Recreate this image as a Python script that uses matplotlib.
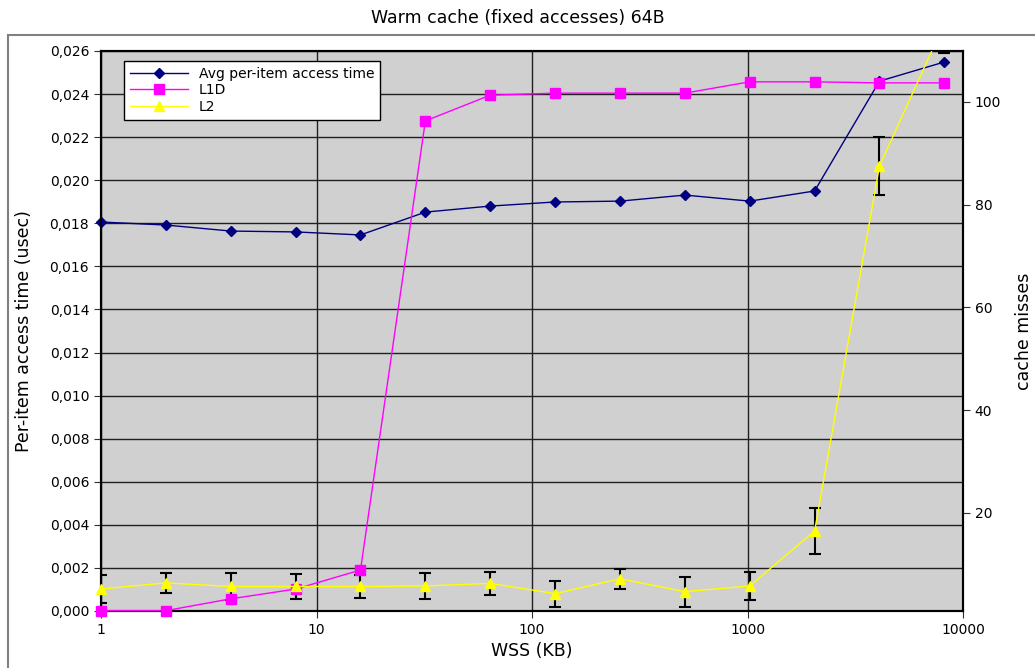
import numpy as np
import matplotlib
matplotlib.use('Agg')
import matplotlib.pyplot as plt
from matplotlib.ticker import FuncFormatter, FixedLocator, NullLocator
from matplotlib.patches import Rectangle

# working set sizes (KB)
wss = [1, 2, 4, 8, 16, 32, 64, 128, 256, 512, 1024, 2048, 4096, 8192]

# average per-item access time (usec), left axis
avg_time = [0.01806, 0.01792, 0.01764, 0.01760, 0.01746, 0.01852, 0.01880,
            0.01899, 0.01903, 0.01931, 0.01903, 0.01950, 0.02460, 0.02549]

# cache misses, right axis
l1d = [1.0, 1.0, 3.3, 5.2, 8.9, 96.3, 101.3, 101.7, 101.7, 101.7,
       103.9, 103.9, 103.7, 103.7]
l2 = [5.2, 6.4, 5.7, 5.7, 5.7, 5.8, 6.3, 4.3, 7.2, 4.7, 5.8, 16.5, 87.5, 115.3]
l2_err = [2.8, 1.9, 2.6, 2.4, 2.2, 2.5, 2.3, 2.5, 1.9, 2.9, 2.8, 4.4, 5.6, 5.8]

fig = plt.figure(figsize=(10.35, 6.68), dpi=100)
ax = fig.add_axes([101 / 1035, 1 - 611 / 668, 862 / 1035, 560 / 668])
ax2 = ax.twinx()

# outer frame of the chart
fig.patches.append(Rectangle((8 / 1035, -0.05), 1.0, 1 - 35 / 668 + 0.05,
                             transform=fig.transFigure, fill=False,
                             edgecolor='#808080', linewidth=1.5))

fig.text(0.5, 1 - 18 / 668, 'Warm cache (fixed accesses) 64B',
         ha='center', va='center', fontsize=12.5)

ax.set_facecolor('#d0d0d0')
ax.set_xscale('log')
ax.set_xlim(1, 10000)
ax.set_ylim(0, 0.026)
ax2.set_ylim(0.93, 109.9)

ax.xaxis.set_major_locator(FixedLocator([1, 10, 100, 1000, 10000]))
ax.xaxis.set_minor_locator(NullLocator())
ax.xaxis.set_major_formatter(FuncFormatter(lambda v, p: '%d' % v))
ax.set_yticks(np.arange(0, 0.0261, 0.002))
ax.yaxis.set_major_formatter(FuncFormatter(lambda v, p: ('%.3f' % v).replace('.', ',')))
ax2.set_yticks([20, 40, 60, 80, 100])

ax.grid(True, which='major', color='#202020', linewidth=1)
ax.set_axisbelow(True)
for a in (ax, ax2):
    a.tick_params(labelsize=10, length=5, color='#303030')
    for s in a.spines.values():
        s.set_linewidth(1.5)

ax.set_xlabel('WSS (KB)', fontsize=12.5)
ax.set_ylabel('Per-item access time (usec)', fontsize=12.5)
ax.yaxis.set_label_coords(-68 / 862, 0.5)
ax2.set_ylabel('cache misses', fontsize=12.5)
ax2.yaxis.set_label_coords((1015 - 101) / 862, 0.5)

ax.plot(wss, avg_time, color='#000080', marker='D', markersize=5,
        linewidth=1, label='Avg per-item access time', clip_on=False, zorder=5)
ax2.plot(wss, l1d, color='#ff00ff', marker='s', markersize=7,
         linewidth=1, label='L1D', clip_on=False, zorder=4)
ax2.errorbar(wss, l2, yerr=l2_err, fmt='none', ecolor='black',
             elinewidth=1.5, capsize=4, capthick=1.5, zorder=3)
ax2.plot(wss[:-1], l2[:-1], color='#ffff00', marker='^', markersize=7,
         linewidth=1, label='L2', clip_on=False, zorder=4)
ax2.plot(wss[-2:], l2[-2:], color='#ffff00', linewidth=1, zorder=4)

h1, lab1 = ax.get_legend_handles_labels()
h2, lab2 = ax2.get_legend_handles_labels()
leg = ax2.legend(h1 + h2, lab1 + lab2, loc='upper left',
                 bbox_to_anchor=(124 / 1035, 1 - 61 / 668),
                 bbox_transform=fig.transFigure, fontsize=10, borderaxespad=0,
                 fancybox=False, framealpha=1, edgecolor='black',
                 borderpad=0.4, labelspacing=0.2, handlelength=4.2)
leg.get_frame().set_linewidth(1)

fig.savefig('out.png', dpi=100)
